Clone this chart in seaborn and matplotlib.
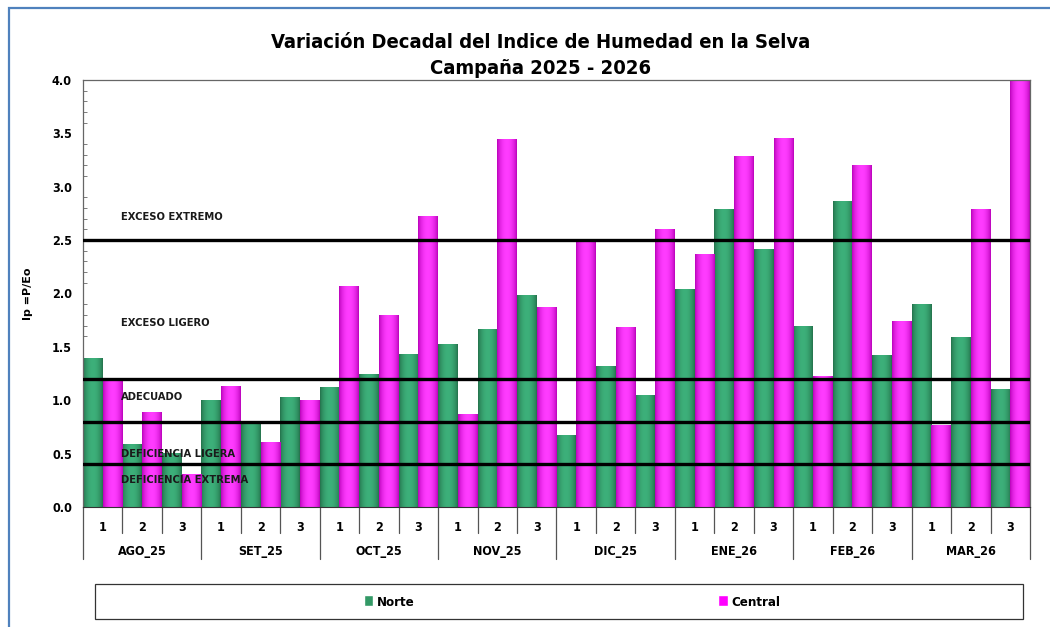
import numpy as np
import pandas as pd
import matplotlib
matplotlib.use("Agg")
import matplotlib.pyplot as plt
import seaborn as sns
from matplotlib import font_manager
from matplotlib.colors import LinearSegmentedColormap
from matplotlib.patches import Patch, Rectangle
from matplotlib.ticker import MultipleLocator, FormatStrFormatter

# --- data -------------------------------------------------------------
months = ["AGO_25", "SET_25", "OCT_25", "NOV_25", "DIC_25", "ENE_26", "FEB_26", "MAR_26"]
decades = ["1", "2", "3"]
norte = [1.40, 0.59, 0.51, 1.00, 0.81, 1.03, 1.12, 1.25, 1.43, 1.53, 1.67, 1.99,
         0.67, 1.32, 1.05, 2.04, 2.79, 2.42, 1.70, 2.87, 1.42, 1.90, 1.59, 1.11]
central = [1.20, 0.89, 0.31, 1.13, 0.61, 1.00, 2.07, 1.80, 2.73, 0.87, 3.45, 1.87,
           2.49, 1.69, 2.60, 2.37, 3.29, 3.46, 1.23, 3.20, 1.74, 0.77, 2.79, 4.00]
thresholds = [2.5, 1.2, 0.8, 0.4]
zone_labels = ["EXCESO EXTREMO", "EXCESO LIGERO", "ADECUADO", "DEFICIENCIA LIGERA", "DEFICIENCIA EXTREMA"]
zone_y = [2.72, 1.72, 1.03, 0.50, 0.25]

keys = [f"{m}|{d}" for m in months for d in decades]
df = pd.DataFrame({
    "key": keys * 2,
    "valor": norte + central,
    "region": ["Norte"] * len(keys) + ["Central"] * len(keys),
})

colors = {"Norte": "#339966", "Central": "#FF00FF"}

# --- style / fonts ----------------------------------------------------
sns.set_style("white")
available = {f.name for f in font_manager.fontManager.ttflist}
fam = "Liberation Sans Narrow" if "Liberation Sans Narrow" in available else "DejaVu Sans"
plt.rcParams["font.family"] = [fam, "DejaVu Sans"]
plt.rcParams["text.color"] = "black"
plt.rcParams["axes.labelcolor"] = "black"
plt.rcParams["xtick.color"] = "black"
plt.rcParams["ytick.color"] = "black"
stretch = "normal" if fam == "Liberation Sans Narrow" else "condensed"

fig = plt.figure(figsize=(10.5, 6.27), dpi=100)
ax = fig.add_axes([83 / 1050, 1 - 507 / 627, 947 / 1050, 427 / 627])

sns.barplot(data=df, x="key", y="valor", hue="region", order=keys,
            palette=colors, width=1.0, dodge=True, legend=False,
            linewidth=0, ax=ax)

# Excel-like gradient shading on each bar
cmaps = [LinearSegmentedColormap.from_list("g", ["#23704A", "#3DB07A"]),
         LinearSegmentedColormap.from_list("m", ["#B800B8", "#FF3CFF"])]
t = np.linspace(0, 1, 64)
grad = (np.sin(np.pi * t) ** 0.7)[None, :]
for cont, cm in zip(ax.containers, cmaps):
    for bar in cont:
        x0, w, h = bar.get_x(), bar.get_width(), bar.get_height()
        im = ax.imshow(grad, cmap=cm, aspect="auto", extent=[x0, x0 + w, 0, h],
                       zorder=2, interpolation="bilinear")
        im.set_clip_path(bar)
        bar.set_alpha(0)

ax.set_xlim(-0.5, len(keys) - 0.5)
ax.set_ylim(0, 4.0)

# threshold lines and zone labels
for th in thresholds:
    ax.axhline(th, color="black", lw=2.4, zorder=4)
for lab, yy in zip(zone_labels, zone_y):
    ax.text(0.47, yy, lab, fontsize=8, fontweight="bold", fontstretch=stretch,
            color="#1a1a1a", va="center", ha="left", zorder=5)

# y axis
ax.yaxis.set_major_locator(MultipleLocator(0.5))
ax.yaxis.set_minor_locator(MultipleLocator(0.1))
ax.yaxis.set_major_formatter(FormatStrFormatter("%.1f"))
ax.tick_params(axis="y", which="major", direction="inout", length=8, width=0.9,
               color="#333333", labelsize=9, pad=4)
ax.tick_params(axis="y", which="minor", direction="in", length=3, width=0.6,
               color="#666666", left=True)
for lbl in ax.get_yticklabels():
    lbl.set_fontweight("bold")
    lbl.set_fontstretch(stretch)
ax.set_ylabel("Ip =P/Eo", fontsize=8, fontweight="bold")
ax.yaxis.set_label_coords(-50 / 947, 0.5)
ax.set_xlabel("")

# two-level x axis
ax.set_xticks(range(len(keys)))
ax.set_xticklabels([k.split("|")[1] for k in keys], fontsize=9, fontweight="bold",
                   fontstretch=stretch)
ax.tick_params(axis="x", length=0, pad=10)
xt = ax.get_xaxis_transform()
for i in range(len(keys) + 1):
    depth = -52 / 427 if i % 3 == 0 else -26 / 427
    ax.plot([i - 0.5, i - 0.5], [0, depth], transform=xt, color="#555555",
            lw=0.9, clip_on=False)
for j, m in enumerate(months):
    ax.text(j * 3 + 1, -45 / 427, m, transform=xt, ha="center", va="center",
            fontsize=9, fontweight="bold", fontstretch=stretch)

for side in ["top", "left", "right"]:
    ax.spines[side].set_color("#666666")
    ax.spines[side].set_linewidth(0.9)
ax.spines["bottom"].set_color("#333333")

# title
fig.text(0.515, 0.933, "Variación Decadal del Indice de Humedad en la Selva",
         ha="center", va="center", fontsize=14.5, fontweight="bold", fontstretch=stretch)
fig.text(0.515, 0.891, "Campaña 2025 - 2026",
         ha="center", va="center", fontsize=14.5, fontweight="bold", fontstretch=stretch)

# legend box
fig.patches.append(Rectangle((95 / 1050, 1 - 619 / 627), 928 / 1050, 35 / 627,
                             transform=fig.transFigure, fill=False,
                             edgecolor="#333333", lw=0.9))
handles = [Patch(facecolor=colors["Norte"], label="Norte"),
           Patch(facecolor=colors["Central"], label="Central")]
leg = fig.legend(handles=handles, ncol=2, frameon=False,
                 loc="center", bbox_to_anchor=(0.545, 1 - 602 / 627),
                 handlelength=0.7, handleheight=0.9, handletextpad=0.3,
                 columnspacing=23, prop={"size": 9.5, "weight": "bold", "stretch": stretch})

# outer blue frame (cropped at right/bottom like the reference)
fig.patches.append(Rectangle((9 / 1050, -0.05), 1.2, 1 - 8 / 627 + 0.05,
                             transform=fig.transFigure, fill=False,
                             edgecolor="#4F81BD", lw=1.6, clip_on=False))

fig.savefig("out.png", dpi=100)
